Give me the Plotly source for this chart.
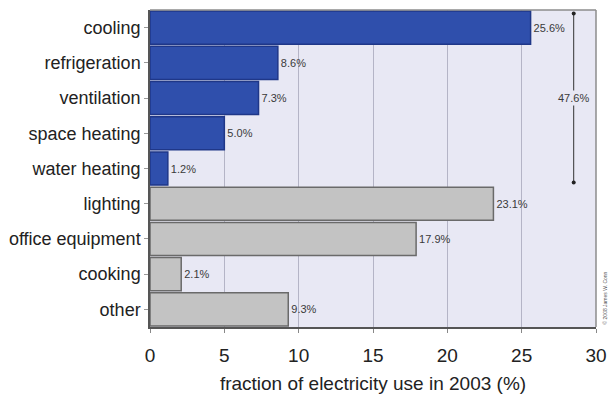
import plotly.graph_objects as go

# End uses of electricity in commercial buildings, 2003
categories = ["cooling", "refrigeration", "ventilation", "space heating", "water heating",
              "lighting", "office equipment", "cooking", "other"]
shares = [25.6, 8.6, 7.3, 5.0, 1.2, 23.1, 17.9, 2.1, 9.3]
is_hvac = [True, True, True, True, True, False, False, False, False]
hvac_total_label = "47.6%"
x_ticks = [0, 5, 10, 15, 20, 25, 30]

blue_fill, blue_edge = "#2f4fac", "#1f3788"
grey_fill, grey_edge = "#c3c3c3", "#6a6a6a"
FONT = "Arial, Liberation Sans, Helvetica"

fig = go.Figure()
fig.add_trace(go.Bar(
    y=categories,
    x=shares,
    orientation="h",
    width=0.94,
    marker=dict(
        color=[blue_fill if h else grey_fill for h in is_hvac],
        line=dict(color=[blue_edge if h else grey_edge for h in is_hvac], width=1.5),
    ),
    text=[f"{v:.1f}%" for v in shares],
    textposition="outside",
    cliponaxis=False,
    textfont=dict(family=FONT, size=11, color="#3a3a3a"),
    hoverinfo="skip",
))

# bracket spanning the five HVAC-related uses (category index coordinates)
hvac_idx = [i for i, h in enumerate(is_hvac) if h]
y_top, y_bot = hvac_idx[0] - 0.4, hvac_idx[-1] + 0.4
bx = 28.5
fig.add_shape(type="line", xref="x", yref="y", x0=bx, x1=bx,
              y0=y_top, y1=y_bot, line=dict(color="#333333", width=1))
for yy in (y_top, y_bot):
    fig.add_shape(type="circle", xref="x", yref="y", xsizemode="pixel", ysizemode="pixel",
                  xanchor=bx, yanchor=yy, x0=-2, x1=2, y0=-2, y1=2,
                  fillcolor="#222222", line=dict(width=0))
fig.add_annotation(x=bx, y=(y_top + y_bot) / 2, xref="x", yref="y",
                   text=hvac_total_label, showarrow=False, bgcolor="#e8e8f4",
                   font=dict(family=FONT, size=11, color="#3a3a3a"))

# lighter frame on the top and right sides of the plot area
fig.add_shape(type="line", xref="paper", yref="paper", x0=0, x1=1, y0=1, y1=1,
              line=dict(color="#8c8c8c", width=1.5))
fig.add_shape(type="line", xref="paper", yref="paper", x0=1, x1=1, y0=0, y1=1,
              line=dict(color="#8c8c8c", width=1.5))

fig.add_annotation(x=1.0, y=0.0, xref="paper", yref="paper", xanchor="left", yanchor="bottom",
                   xshift=3, text="© 2008 James W. Conn", textangle=-90, showarrow=False,
                   font=dict(family=FONT, size=5, color="#555555"))

fig.update_layout(
    width=611, height=401,
    margin=dict(l=150, r=15, t=10, b=74),
    paper_bgcolor="white",
    plot_bgcolor="#e8e8f4",
    showlegend=False,
    font=dict(family=FONT, color="#222222"),
)
fig.update_xaxes(
    range=[0, 30], tickvals=x_ticks, ticktext=[str(t) for t in x_ticks],
    automargin=False,
    showgrid=True, gridcolor="#b4b4c6", gridwidth=1,
    showline=True, linecolor="#555555", linewidth=1.5,
    ticks="outside", ticklen=4, tickcolor="#888888",
    ticklabelstandoff=6,
    tickfont=dict(size=19, color="#222222"),
    title=dict(text="fraction of electricity use in 2003 (%)", font=dict(size=19, color="#222222"),
               standoff=12),
    zeroline=False,
)
fig.update_yaxes(
    categoryorder="array", categoryarray=categories, autorange="reversed",
    automargin=False,
    showline=True, linecolor="#555555", linewidth=1.5,
    ticks="outside", ticklen=4, tickcolor="#999999",
    tickfont=dict(size=18, color="#222222"),
    showgrid=False,
)

fig.write_html("out.html")
